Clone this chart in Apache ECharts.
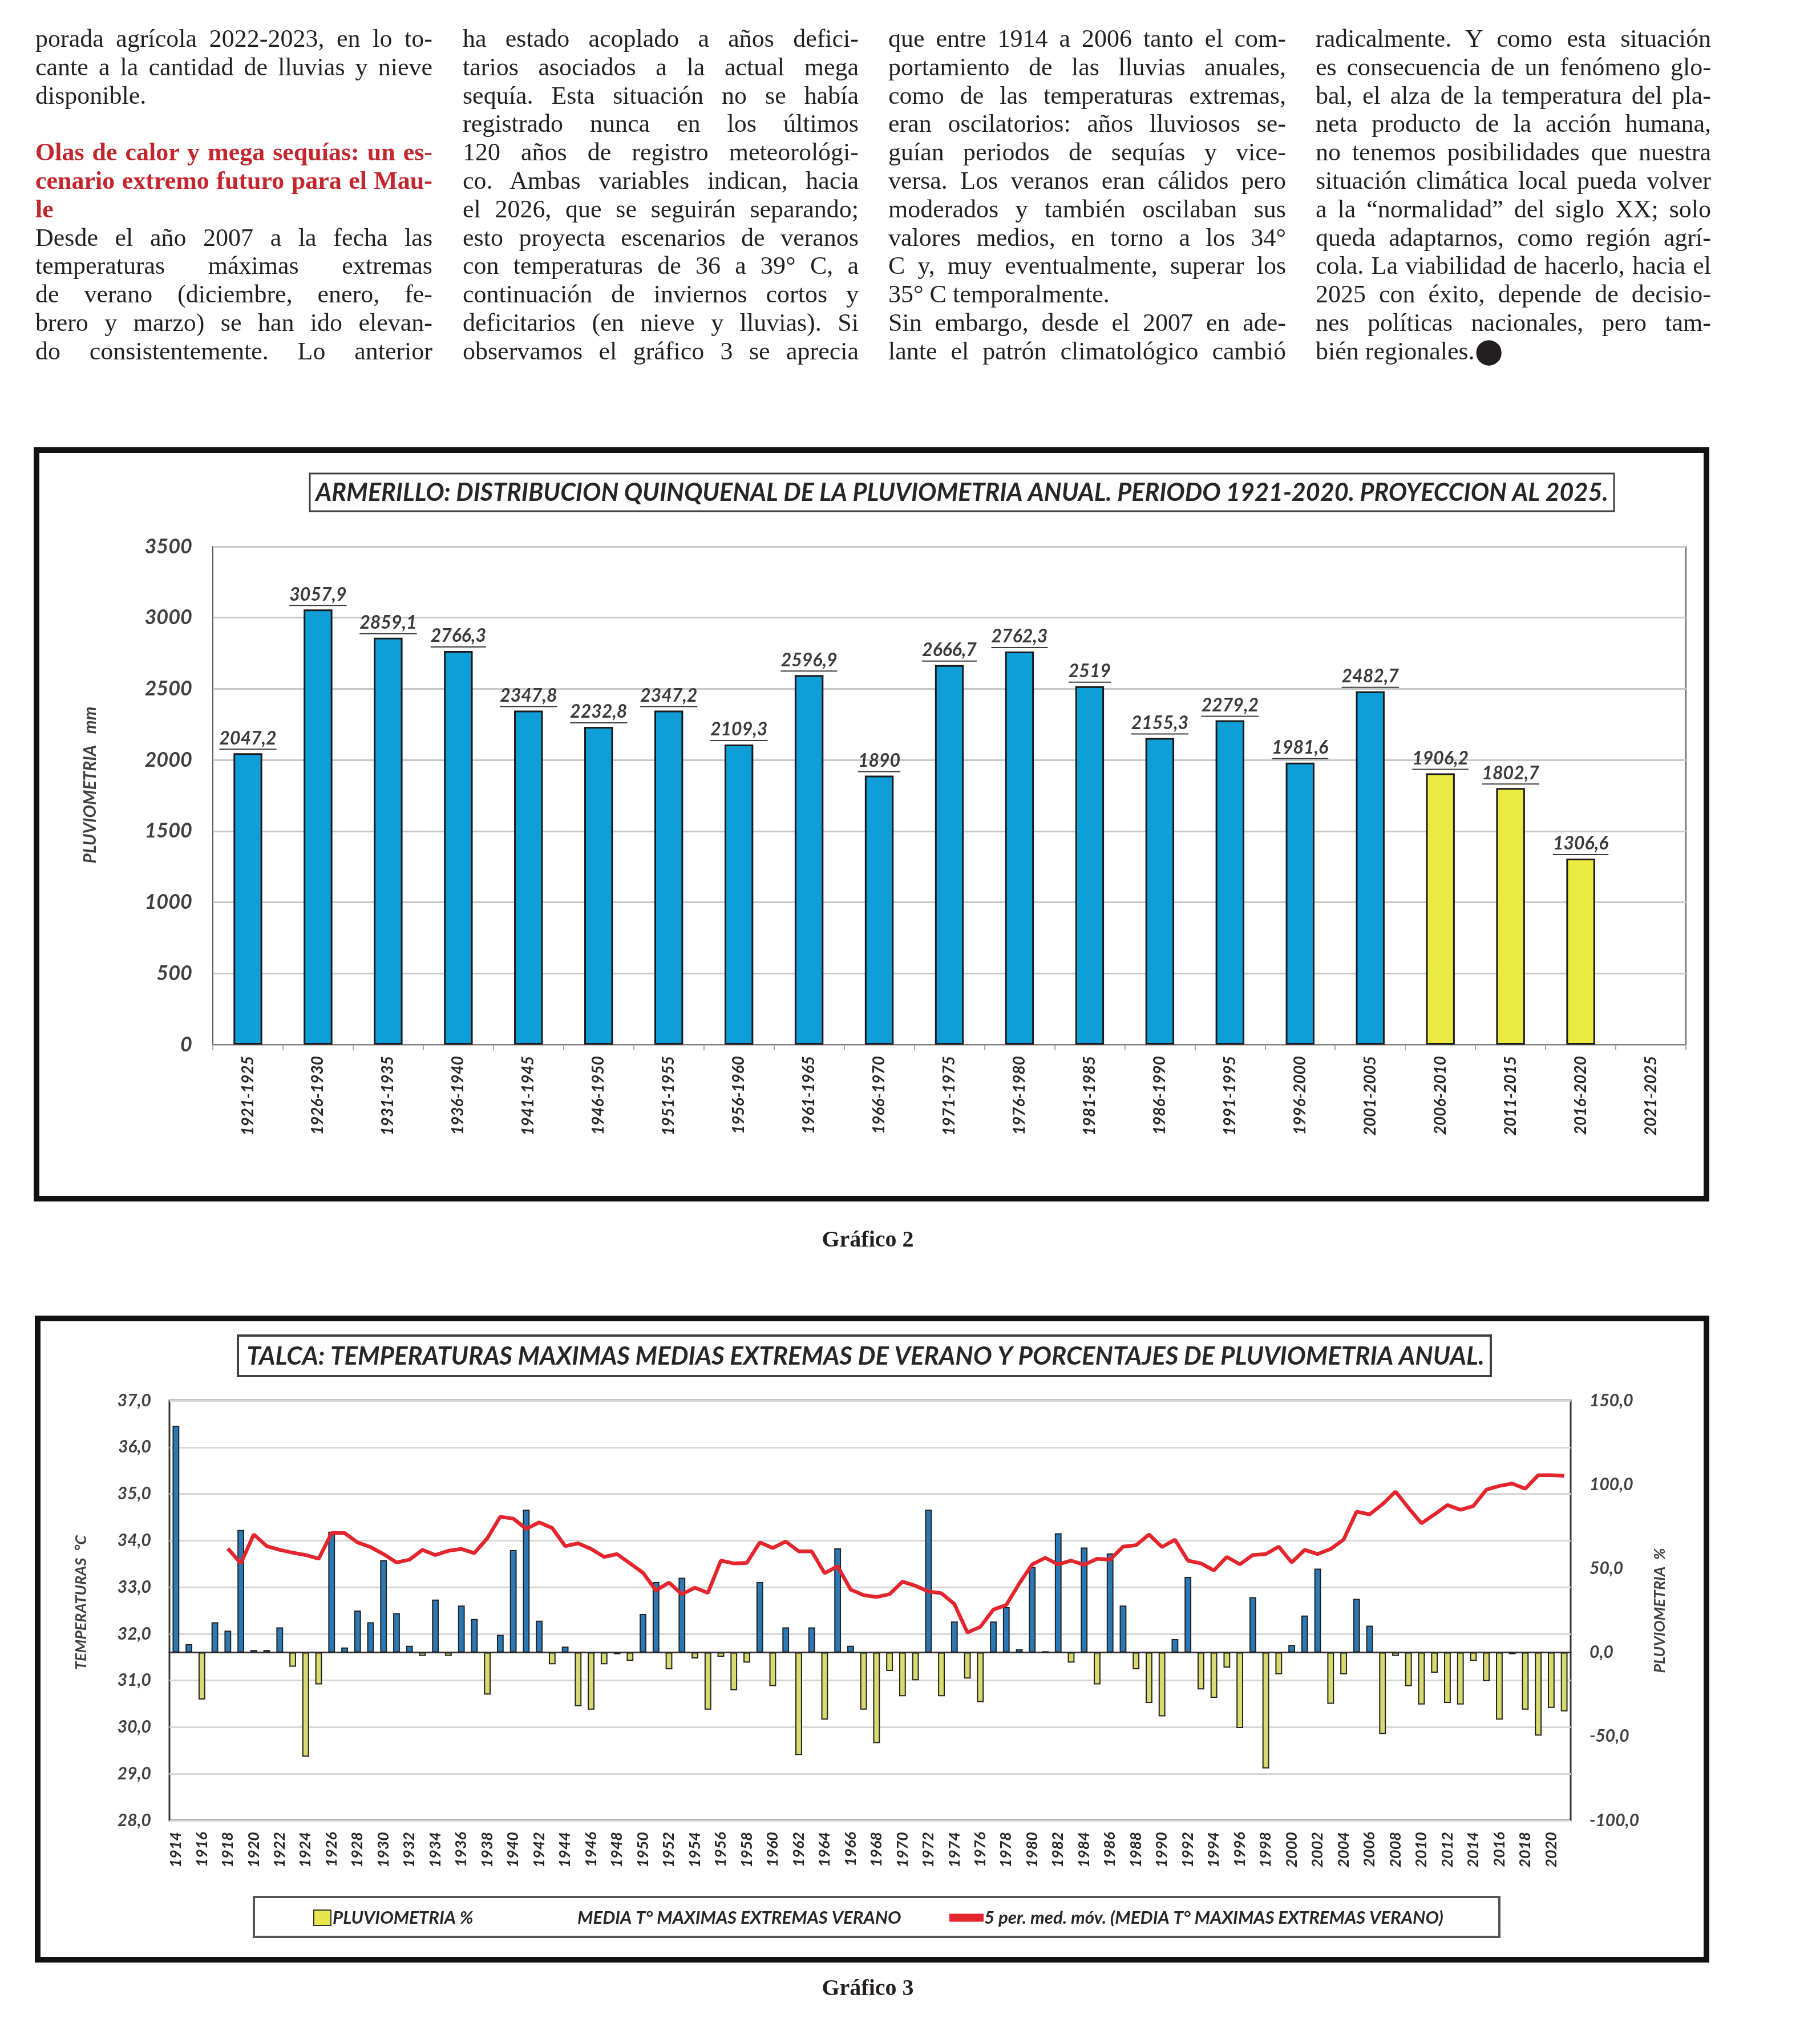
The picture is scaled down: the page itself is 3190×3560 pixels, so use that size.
<!DOCTYPE html>
<html>
<head>
<meta charset="utf-8">
<script src="https://cdn.jsdelivr.net/npm/echarts/dist/echarts.min.js"></script>
<style>
html,body{margin:0;padding:0;background:#fff;}
#wrap{position:relative;width:3190px;height:3560px;overflow:hidden;background:#fff;}
#chart{position:absolute;left:0;top:0;width:3190px;height:3560px;}
#text{position:absolute;left:0;top:0;width:3190px;height:700px;}
.ln{position:absolute;font-family:"Liberation Serif","DejaVu Serif",serif;font-size:44px;line-height:49.8px;height:49.8px;color:#231f20;white-space:nowrap;}
.ln.h{color:#c4262e;font-weight:bold;}
.cap{position:absolute;width:400px;text-align:center;font-family:"Liberation Serif",serif;font-weight:bold;font-size:40px;color:#231f20;}
</style>
</head>
<body>
<div id="wrap">
  <div id="chart"></div>
  <div id="text"></div>
  <div class="cap" style="left:1321px;top:2148px;">Gráfico 2</div>
  <div class="cap" style="left:1321px;top:3460px;">Gráfico 3</div>
</div>
<script>
// ---------------- DATA ----------------
const quinquenios = ['1921-1925','1926-1930','1931-1935','1936-1940','1941-1945','1946-1950','1951-1955','1956-1960','1961-1965','1966-1970','1971-1975','1976-1980','1981-1985','1986-1990','1991-1995','1996-2000','2001-2005','2006-2010','2011-2015','2016-2020','2021-2025'];
const pluvioQuinquenal = [2047.2,3057.9,2859.1,2766.3,2347.8,2232.8,2347.2,2109.3,2596.9,1890,2666.7,2762.3,2519,2155.3,2279.2,1981.6,2482.7,1906.2,1802.7,1306.6,null];
const highlightedFrom = 17; // 2006-2010 onwards drawn in yellow

const years = [];
for (let y = 1914; y <= 2021; y++) years.push(String(y));

const pluvioPct = [
 135, 5, -28, 18, 13, 73, 1.5, 1.5, 15, -8.5,          // 1914-1923
 -62, -19, 72, 3, 25, 18, 55, 23.5, 4, -2,             // 1924-1933
 31.5, -2, 28, 20, -25, 10.5, 61, 85, 19, -7,          // 1934-1943
 3.5, -32, -34, -7, -1, -5, 23, 42, -10, 44.5,         // 1944-1953
 -3.5, -34, -2.5, -22.5, -6, 42, -20, 15, -61, 15,     // 1954-1963
 -40, 62, 4, -34, -54, -11, -26, -16.5, 85, -26,       // 1964-1973
 18.5, -15.5, -29.5, 18.5, 27, 2, 51, 0.8, 71, -6,     // 1974-1983
 62.5, -19, 59, 28, -10, -30, -38, 8, 45, -22,         // 1984-1993
 -27, -9, -45, 33, -69, -13, 4.5, 22, 50, -30.5,       // 1994-2003
 -13, 32, 16, -48.5, -2, -20, -31, -12, -30, -31,      // 2004-2013
 -5, -17, -40, -1, -34, -49.5, -33, -35                // 2014-2021
];

const mediaMovil = [
 null, null, null, null, 33.83, 33.51, 34.13, 33.88, 33.80, 33.74,   // 1914-1923
 33.69, 33.61, 34.16, 34.16, 33.96, 33.86, 33.71, 33.53, 33.59, 33.80, // 1924-1933
 33.69, 33.78, 33.82, 33.73, 34.05, 34.51, 34.47, 34.25, 34.39, 34.27, // 1934-1943
 33.88, 33.94, 33.82, 33.65, 33.71, 33.51, 33.31, 32.93, 33.10, 32.85, // 1944-1953
 32.99, 32.88, 33.57, 33.51, 33.52, 33.96, 33.84, 33.98, 33.77, 33.77, // 1954-1963
 33.30, 33.45, 32.95, 32.83, 32.79, 32.85, 33.12, 33.03, 32.91, 32.87, // 1964-1973
 32.64, 32.03, 32.15, 32.52, 32.62, 33.08, 33.49, 33.63, 33.49, 33.57, // 1974-1983
 33.48, 33.61, 33.59, 33.87, 33.90, 34.13, 33.86, 34.02, 33.57, 33.51, // 1984-1993
 33.36, 33.65, 33.49, 33.69, 33.71, 33.87, 33.53, 33.80, 33.71, 33.82, // 1994-2003
 34.02, 34.62, 34.56, 34.78, 35.05, 34.70, 34.37, 34.56, 34.76, 34.66, // 2004-2013
 34.74, 35.09, 35.17, 35.22, 35.11, 35.40, 35.40, 35.39               // 2014-2021
];

const tempTicks = {min: 28, max: 37, interval: 1};
const pctTicks = {min: -100, max: 150, interval: 50};
const mmTicks = {min: 0, max: 3500, interval: 500};

// ---------------- ARTICLE TEXT ----------------
const columns = [
 {x: 62, w: 696, lines: [
  ['porada agrícola 2022-2023, en lo to-', 'j'],
  ['cante a la cantidad de lluvias y nieve', 'j'],
  ['disponible.', 'l'],
  ['', 'l'],
  ['Olas de calor y mega sequías: un es-', 'jh'],
  ['cenario extremo futuro para el Mau-', 'jh'],
  ['le', 'lh'],
  ['Desde el año 2007 a la fecha las', 'j'],
  ['temperaturas máximas extremas', 'j'],
  ['de verano (diciembre, enero, fe-', 'j'],
  ['brero y marzo) se han ido elevan-', 'j'],
  ['do consistentemente. Lo anterior', 'j']
 ]},
 {x: 811, w: 694, lines: [
  ['ha estado acoplado a años defici-', 'j'],
  ['tarios asociados a la actual mega', 'j'],
  ['sequía. Esta situación no se había', 'j'],
  ['registrado nunca en los últimos', 'j'],
  ['120 años de registro meteorológi-', 'j'],
  ['co. Ambas variables indican, hacia', 'j'],
  ['el 2026, que se seguirán separando;', 'j'],
  ['esto proyecta escenarios de veranos', 'j'],
  ['con temperaturas de 36 a 39° C, a', 'j'],
  ['continuación de inviernos cortos y', 'j'],
  ['deficitarios (en nieve y lluvias). Si', 'j'],
  ['observamos el gráfico 3 se aprecia', 'j']
 ]},
 {x: 1557, w: 697, lines: [
  ['que entre 1914 a 2006 tanto el com-', 'j'],
  ['portamiento de las lluvias anuales,', 'j'],
  ['como de las temperaturas extremas,', 'j'],
  ['eran oscilatorios: años lluviosos se-', 'j'],
  ['guían periodos de sequías y vice-', 'j'],
  ['versa. Los veranos eran cálidos pero', 'j'],
  ['moderados y también oscilaban sus', 'j'],
  ['valores medios, en torno a los 34°', 'j'],
  ['C y, muy eventualmente, superar los', 'j'],
  ['35° C temporalmente.', 'l'],
  ['Sin embargo, desde el 2007 en ade-', 'j'],
  ['lante el patrón climatológico cambió', 'j']
 ]},
 {x: 2306, w: 693, lines: [
  ['radicalmente. Y como esta situación', 'j'],
  ['es consecuencia de un fenómeno glo-', 'j'],
  ['bal, el alza de la temperatura del pla-', 'j'],
  ['neta producto de la acción humana,', 'j'],
  ['no tenemos posibilidades que nuestra', 'j'],
  ['situación climática local pueda volver', 'j'],
  ['a la “normalidad” del siglo XX; solo', 'j'],
  ['queda adaptarnos, como región agrí-', 'j'],
  ['cola. La viabilidad de hacerlo, hacia el', 'j'],
  ['2025 con éxito, depende de decisio-', 'j'],
  ['nes políticas nacionales, pero tam-', 'j'],
  ['bién regionales.\u2B24', 'l']
 ]}
];

const textBox = document.getElementById('text');
const TOP0 = 43, LH = 49.8;
columns.forEach(col => {
  col.lines.forEach((ln, i) => {
    const d = document.createElement('div');
    d.className = 'ln' + (ln[1].indexOf('h') >= 0 ? ' h' : '');
    d.style.left = col.x + 'px';
    d.style.top = (TOP0 + i * LH) + 'px';
    d.style.width = col.w + 'px';
    const s = document.createElement('span');
    s.textContent = ln[0];
    d.appendChild(s);
    textBox.appendChild(d);
    const nat = s.getBoundingClientRect().width;
    if (nat > col.w) {
      s.style.display = 'inline-block';
      s.style.transformOrigin = 'left center';
      s.style.transform = 'scaleX(' + (col.w / nat) + ')';
    } else if (ln[1].indexOf('j') >= 0) {
      d.style.whiteSpace = 'normal';
      d.style.textAlign = 'justify';
      d.style.textAlignLast = 'justify';
    }
  });
});

// ---------------- CHART ----------------
const FONT = 'Lato, "Open Sans", sans-serif';
const cv = document.createElement('canvas').getContext('2d');
function fit(text, target, weight, style) {
  cv.font = (style || 'italic') + ' ' + (weight || 'bold') + ' 100px ' + FONT;
  return 100 * target / cv.measureText(text).width;
}
const title2 = 'ARMERILLO: DISTRIBUCION QUINQUENAL DE LA PLUVIOMETRIA ANUAL. PERIODO 1921-2020. PROYECCION AL 2025.';
const title3 = 'TALCA: TEMPERATURAS MAXIMAS MEDIAS EXTREMAS DE VERANO Y PORCENTAJES DE PLUVIOMETRIA ANUAL.';
const leg1 = 'PLUVIOMETRIA %';
const leg2 = 'MEDIA T° MAXIMAS EXTREMAS VERANO';
const leg3 = '5 per. med. móv. (MEDIA T° MAXIMAS EXTREMAS VERANO)';
const t2size = fit(title2, 2266);
const t3size = fit(title3, 2170);
const legSize = fit(leg3, 805);

const comma1 = v => v.toFixed(1).replace('.', ',');
const txt = (sz, col) => ({fontFamily: FONT, fontWeight: 'bold', fontStyle: 'italic', fontSize: sz, color: col || '#404040'});

const chart = echarts.init(document.getElementById('chart'), null, {renderer: 'canvas', width: 3190, height: 3560});

const valueLabel = v => String(v).replace('.', ',');

const option = {
  animation: false,
  backgroundColor: 'transparent',
  grid: [
    {left: 373, top: 958, width: 2582, height: 873, show: true, borderColor: '#595959', borderWidth: 2, backgroundColor: 'transparent'},
    {left: 297, top: 2455, width: 2456, height: 736, show: true, borderColor: '#333', borderWidth: 3, backgroundColor: 'transparent'}
  ],
  xAxis: [
    {type: 'category', gridIndex: 0, data: quinquenios,
     axisLine: {lineStyle: {color: '#7f7f7f', width: 2}},
     axisTick: {show: true, interval: 0, length: 10, lineStyle: {color: '#a6a6a6', width: 2}},
     axisLabel: Object.assign({rotate: 90, interval: 0, margin: 20}, txt(28, '#262626'))},
    {type: 'category', gridIndex: 1, data: years,
     axisLine: {lineStyle: {color: '#333', width: 3}},
     axisTick: {show: false},
     axisLabel: Object.assign({rotate: 90, interval: 1, margin: 20}, txt(27, '#262626'))}
  ],
  yAxis: [
    {type: 'value', gridIndex: 0, min: mmTicks.min, max: mmTicks.max, interval: mmTicks.interval,
     axisLine: {show: false}, axisTick: {show: false},
     splitLine: {lineStyle: {color: '#c8c8c8', width: 3}},
     axisLabel: Object.assign({margin: 36, formatter: v => String(v)}, txt(36))},
    {type: 'value', gridIndex: 1, position: 'left', min: tempTicks.min, max: tempTicks.max, interval: tempTicks.interval,
     axisLine: {show: false}, axisTick: {show: false},
     splitLine: {lineStyle: {color: '#d6d6d6', width: 3}},
     axisLabel: Object.assign({margin: 32, formatter: comma1}, txt(30))},
    {type: 'value', gridIndex: 1, position: 'right', min: pctTicks.min, max: pctTicks.max, interval: pctTicks.interval,
     axisLine: {show: false}, axisTick: {show: false}, splitLine: {show: false},
     axisLabel: Object.assign({margin: 33, formatter: comma1}, txt(30))}
  ],
  legend: [
    {left: 549, top: 3346, itemWidth: 30, itemHeight: 27, itemGap: 0, padding: 0,
     textStyle: Object.assign({padding: [0, 0, 0, -2]}, txt(legSize, '#262626')),
     data: [{name: leg1, icon: 'rect', itemStyle: {color: '#e6e64c', borderColor: '#333', borderWidth: 2}}]},
    {left: 1006, top: 3346, itemWidth: 1, itemHeight: 27, padding: 0,
     textStyle: txt(legSize, '#262626'),
     data: [{name: leg2, icon: 'none'}]},
    {left: 1664, top: 3346, itemWidth: 60, itemHeight: 14, padding: 0,
     textStyle: Object.assign({padding: [0, 0, 0, -4]}, txt(legSize, '#262626')),
     data: [{name: leg3, icon: 'rect', itemStyle: {color: '#e4252d'}}]}
  ],
  series: [
    {name: 'Pluviometría quinquenal', type: 'bar', xAxisIndex: 0, yAxisIndex: 0, barWidth: '41%',
     data: pluvioQuinquenal.map((v, i) => ({value: v, itemStyle: {color: i >= highlightedFrom ? '#ebea40' : '#109ed9'}})),
     itemStyle: {borderColor: '#1a1a1a', borderWidth: 3},
     label: {show: true, position: 'top', distance: 6,
       formatter: p => (p.value == null ? '' : '{v|' + valueLabel(p.value) + '}\n{u|' + valueLabel(p.value) + '}'),
       rich: {
         v: Object.assign({align: 'center', lineHeight: 36}, txt(32, '#3a3a3a')),
         u: Object.assign({align: 'center', height: 2, lineHeight: 2, backgroundColor: '#3a3a3a'}, txt(32, 'rgba(0,0,0,0)'))
       }}},
    {name: leg1, type: 'bar', xAxisIndex: 1, yAxisIndex: 2, barWidth: '52%',
     data: pluvioPct.map(v => ({value: v, itemStyle: {color: v >= 0 ? '#2a79b6' : '#d9da6e'}})),
     itemStyle: {borderColor: '#222', borderWidth: 2}},
    {name: leg2, type: 'line', xAxisIndex: 1, yAxisIndex: 1, data: [], symbol: 'none'},
    {name: leg3, type: 'line', xAxisIndex: 1, yAxisIndex: 1, data: mediaMovil, symbol: 'none',
     connectNulls: false, lineStyle: {color: '#e4252d', width: 6.5}, itemStyle: {color: '#e4252d'}, z: 5}
  ],
  graphic: [
    // frames
    {type: 'rect', shape: {x: 64, y: 789, width: 2927, height: 1312}, style: {fill: 'none', stroke: '#111', lineWidth: 10}},
    {type: 'rect', shape: {x: 66, y: 2311, width: 2925, height: 1124}, style: {fill: 'none', stroke: '#111', lineWidth: 10}},
    // title boxes
    {type: 'rect', shape: {x: 543, y: 830, width: 2286, height: 66}, style: {fill: '#fff', stroke: '#404040', lineWidth: 3}},
    {type: 'text', x: 1686, y: 864, style: {text: title2, textAlign: 'center', textVerticalAlign: 'middle', fill: '#262626', font: 'italic bold ' + t2size + 'px ' + FONT}},
    {type: 'rect', shape: {x: 417, y: 2341, width: 2196, height: 71}, style: {fill: '#fff', stroke: '#404040', lineWidth: 4}},
    {type: 'text', x: 1517, y: 2378, style: {text: title3, textAlign: 'center', textVerticalAlign: 'middle', fill: '#262626', font: 'italic bold ' + t3size + 'px ' + FONT}},
    // axis titles
    {type: 'text', x: 158, y: 1376, rotation: Math.PI / 2, style: {text: 'PLUVIOMETRIA   mm', textAlign: 'center', textVerticalAlign: 'middle', fill: '#404040', font: 'italic bold 30px ' + FONT}},
    {type: 'text', x: 142, y: 2809, rotation: Math.PI / 2, style: {text: 'TEMPERATURAS  °C', textAlign: 'center', textVerticalAlign: 'middle', fill: '#404040', font: 'italic bold 27px ' + FONT}},
    {type: 'text', x: 2909, y: 2823, rotation: Math.PI / 2, style: {text: 'PLUVIOMETRIA  %', textAlign: 'center', textVerticalAlign: 'middle', fill: '#404040', font: 'italic bold 27px ' + FONT}},
    // legend box
    {type: 'rect', shape: {x: 445, y: 3325, width: 2183, height: 70}, style: {fill: 'none', stroke: '#555', lineWidth: 4}}
  ]
};
chart.setOption(option);
</script>
</body>
</html>
